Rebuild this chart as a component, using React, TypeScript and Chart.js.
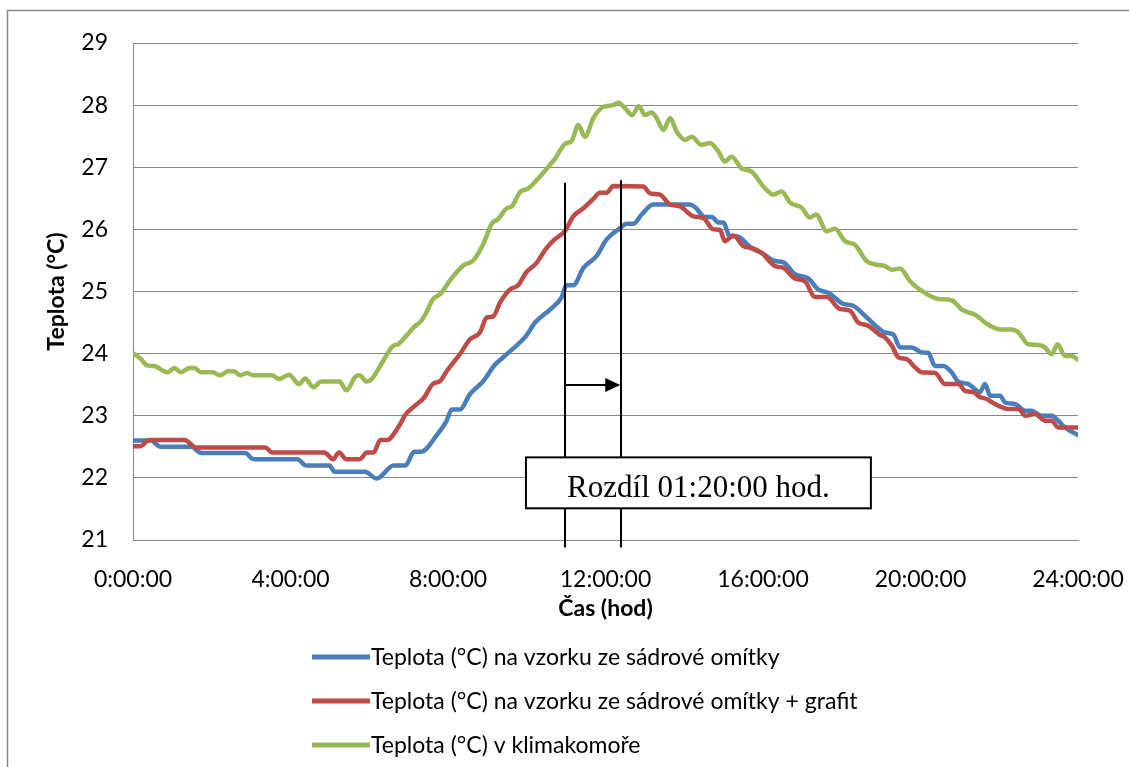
import React, { useEffect, useRef } from "react";
import { Chart, registerables } from "chart.js";

Chart.register(...registerables);

// ---- Data (hours, °C) ----
const blueTimes = [0, 0.45, 0.7, 1.48, 1.73, 2.85, 3.06, 4.18, 4.39, 4.99, 5.12, 5.89, 6.19, 6.62, 6.92, 7.14, 7.31, 7.73, 7.95, 8.1, 8.3, 8.56, 8.9, 9.19, 9.49, 9.99, 10.21, 10.59, 10.88, 11.01, 11.18, 11.44, 11.77, 12.03, 12.37, 12.54, 12.71, 12.92, 13.21, 14.14, 14.27, 14.53, 14.7, 14.87, 14.99, 15.16, 15.33, 15.71, 15.97, 16.3, 16.52, 16.81, 17.15, 17.41, 17.66, 18.04, 18.29, 18.59, 18.97, 19.1, 19.31, 19.48, 19.78, 20.03, 20.2, 20.37, 20.58, 20.79, 20.96, 21.22, 21.38, 21.51, 21.64, 21.77, 22.02, 22.15, 22.4, 22.66, 22.82, 23.08, 23.33, 23.5, 23.67, 24.0];
const blueValues = [22.6, 22.6, 22.5, 22.5, 22.4, 22.4, 22.3, 22.3, 22.2, 22.2, 22.1, 22.1, 21.99, 22.2, 22.2, 22.42, 22.42, 22.7, 22.9, 23.1, 23.1, 23.35, 23.56, 23.82, 23.99, 24.29, 24.5, 24.71, 24.9, 25.1, 25.1, 25.38, 25.57, 25.84, 26.02, 26.09, 26.09, 26.24, 26.4, 26.4, 26.36, 26.2, 26.2, 26.11, 26.11, 25.89, 25.89, 25.7, 25.62, 25.49, 25.47, 25.28, 25.21, 25.03, 24.98, 24.8, 24.77, 24.61, 24.39, 24.34, 24.31, 24.1, 24.1, 24.02, 24.01, 23.8, 23.8, 23.7, 23.55, 23.51, 23.43, 23.38, 23.51, 23.32, 23.32, 23.21, 23.19, 23.08, 23.08, 23.0, 23.0, 22.92, 22.81, 22.69];

const redTimes = [0, 0.19, 0.41, 1.31, 1.6, 3.36, 3.53, 4.86, 5.08, 5.23, 5.42, 5.76, 5.94, 6.11, 6.28, 6.45, 6.75, 6.92, 7.14, 7.39, 7.61, 7.8, 7.97, 8.3, 8.56, 8.81, 8.98, 9.15, 9.32, 9.57, 9.78, 9.99, 10.25, 10.5, 10.71, 10.97, 11.18, 11.44, 11.69, 11.86, 12.03, 12.2, 12.96, 13.13, 13.38, 13.64, 13.89, 14.23, 14.49, 14.74, 14.91, 15.03, 15.25, 15.5, 15.71, 15.97, 16.3, 16.52, 16.81, 17.07, 17.32, 17.62, 17.95, 18.21, 18.42, 18.67, 18.97, 19.1, 19.27, 19.44, 19.65, 19.86, 20.03, 20.37, 20.62, 20.96, 21.13, 21.34, 21.51, 21.68, 21.89, 22.23, 22.49, 22.66, 22.91, 23.16, 23.33, 23.5, 24.0];
const redValues = [22.51, 22.51, 22.61, 22.61, 22.49, 22.49, 22.41, 22.41, 22.3, 22.41, 22.3, 22.3, 22.41, 22.41, 22.61, 22.61, 22.83, 23.02, 23.15, 23.29, 23.51, 23.56, 23.72, 23.99, 24.23, 24.34, 24.58, 24.6, 24.82, 25.03, 25.1, 25.31, 25.46, 25.7, 25.84, 25.97, 26.21, 26.34, 26.49, 26.59, 26.59, 26.7, 26.69, 26.58, 26.56, 26.4, 26.37, 26.21, 26.18, 26.0, 25.99, 25.81, 25.9, 25.73, 25.7, 25.62, 25.41, 25.38, 25.21, 25.16, 24.91, 24.91, 24.72, 24.69, 24.5, 24.45, 24.3, 24.26, 24.13, 23.94, 23.91, 23.78, 23.7, 23.69, 23.51, 23.51, 23.4, 23.38, 23.3, 23.27, 23.19, 23.11, 23.11, 23.0, 23.03, 22.92, 22.92, 22.81, 22.81];

const greenTimes = [0, 0.19, 0.36, 0.53, 0.88, 1.05, 1.22, 1.43, 1.56, 1.73, 2.03, 2.21, 2.42, 2.59, 2.72, 2.89, 3.06, 3.53, 3.71, 3.96, 4.22, 4.37, 4.58, 4.78, 5.25, 5.42, 5.64, 5.75, 5.94, 6.06, 6.36, 6.58, 6.75, 6.96, 7.14, 7.31, 7.44, 7.61, 7.82, 8.05, 8.39, 8.64, 8.9, 9.11, 9.28, 9.49, 9.62, 9.83, 10.04, 10.25, 10.51, 10.72, 10.98, 11.14, 11.31, 11.48, 11.69, 11.94, 12.2, 12.33, 12.5, 12.67, 12.85, 13.0, 13.17, 13.3, 13.47, 13.64, 13.81, 14.02, 14.19, 14.44, 14.65, 14.87, 15.03, 15.2, 15.46, 15.71, 16.01, 16.26, 16.47, 16.69, 16.98, 17.19, 17.35, 17.62, 17.83, 18.08, 18.34, 18.63, 18.89, 19.1, 19.27, 19.48, 19.73, 20.03, 20.45, 20.79, 21.05, 21.43, 21.64, 22.02, 22.32, 22.49, 22.74, 23.0, 23.16, 23.33, 23.48, 23.67, 23.84, 24.0];
const greenValues = [24.01, 23.92, 23.81, 23.8, 23.7, 23.77, 23.7, 23.77, 23.77, 23.7, 23.7, 23.65, 23.72, 23.71, 23.65, 23.69, 23.65, 23.65, 23.59, 23.66, 23.51, 23.6, 23.46, 23.55, 23.55, 23.41, 23.62, 23.65, 23.55, 23.59, 23.89, 24.11, 24.16, 24.3, 24.43, 24.52, 24.65, 24.87, 24.97, 25.18, 25.42, 25.5, 25.77, 26.09, 26.17, 26.34, 26.37, 26.6, 26.66, 26.79, 26.98, 27.14, 27.38, 27.42, 27.68, 27.49, 27.79, 27.97, 28.0, 28.04, 27.95, 27.84, 27.98, 27.84, 27.88, 27.79, 27.6, 27.79, 27.57, 27.44, 27.49, 27.36, 27.39, 27.25, 27.09, 27.17, 26.98, 26.93, 26.69, 26.56, 26.61, 26.43, 26.35, 26.19, 26.24, 25.97, 26.01, 25.81, 25.75, 25.49, 25.43, 25.41, 25.35, 25.37, 25.17, 25.01, 24.88, 24.86, 24.71, 24.61, 24.5, 24.39, 24.39, 24.34, 24.15, 24.14, 24.1, 23.99, 24.15, 23.96, 23.96, 23.9];

const seriesLabels = [
  "Teplota (°C) na vzorku ze sádrové omítky",
  "Teplota (°C) na vzorku ze sádrové omítky + grafit",
  "Teplota (°C) v klimakomoře",
];
const seriesColors = ["#4A7EBB", "#BE4B48", "#98B954"];
const xTickValues = [0, 4, 8, 12, 16, 20, 24];
const yTickValues = [21, 22, 23, 24, 25, 26, 27, 28, 29];

// ---- Annotation (in data units) ----
const markerTimes = [10.97, 12.4];
const markerTops = [26.75, 26.79];
const markerBottom = 20.88;
const arrowValue = 23.5;
const boxTimes = [9.98, 18.74];
const boxValues = [22.33, 21.51];
const boxText = "Rozdíl 01:20:00 hod.";

const FONT = "Lato, 'Noto Sans', sans-serif";
const FS = 23;

const decorPlugin = {
  id: "decor",
  afterDatasetsDraw(chart: any) {
    const { ctx, scales } = chart;
    const xs = scales.x;
    const ys = scales.y;
    ctx.save();
    ctx.strokeStyle = "#000";
    ctx.fillStyle = "#000";
    ctx.lineWidth = 2;
    markerTimes.forEach((t, i) => {
      const px = Math.round(xs.getPixelForValue(t));
      ctx.beginPath();
      ctx.moveTo(px, ys.getPixelForValue(markerTops[i]));
      ctx.lineTo(px, ys.getPixelForValue(markerBottom));
      ctx.stroke();
    });
    const ax1 = xs.getPixelForValue(markerTimes[0]);
    const ax2 = xs.getPixelForValue(markerTimes[1]) - 1;
    const ay = Math.round(ys.getPixelForValue(arrowValue));
    ctx.beginPath();
    ctx.moveTo(ax1, ay);
    ctx.lineTo(ax2 - 12, ay);
    ctx.stroke();
    ctx.beginPath();
    ctx.moveTo(ax2, ay);
    ctx.lineTo(ax2 - 15, ay - 7);
    ctx.lineTo(ax2 - 15, ay + 7);
    ctx.closePath();
    ctx.fill();
    const bx1 = xs.getPixelForValue(boxTimes[0]);
    const bx2 = xs.getPixelForValue(boxTimes[1]);
    const by1 = ys.getPixelForValue(boxValues[0]);
    const by2 = ys.getPixelForValue(boxValues[1]);
    ctx.fillStyle = "#fff";
    ctx.fillRect(bx1, by1, bx2 - bx1, by2 - by1);
    ctx.strokeRect(bx1, by1, bx2 - bx1, by2 - by1);
    ctx.fillStyle = "#000";
    ctx.font = "31px 'Liberation Serif', 'Times New Roman', serif";
    ctx.textAlign = "center";
    ctx.textBaseline = "alphabetic";
    ctx.fillText(boxText, (bx1 + bx2) / 2, by2 - 11);
    ctx.restore();
  },
  afterDraw(chart: any) {
    const { ctx } = chart;
    ctx.save();
    ctx.strokeStyle = "#8a8a8a";
    ctx.lineWidth = 1.5;
    ctx.beginPath();
    ctx.moveTo(7.5, 767);
    ctx.lineTo(7.5, 10.5);
    ctx.lineTo(1129, 10.5);
    ctx.stroke();
    const rows = [657, 701, 745];
    ctx.font = `${FS}px ${FONT}`;
    ctx.textBaseline = "middle";
    ctx.textAlign = "left";
    seriesLabels.forEach((lab, i) => {
      ctx.strokeStyle = seriesColors[i];
      ctx.lineWidth = 5;
      ctx.lineCap = "butt";
      ctx.beginPath();
      ctx.moveTo(312, rows[i]);
      ctx.lineTo(370, rows[i]);
      ctx.stroke();
      ctx.fillStyle = "#000";
      ctx.fillText(lab, 371, rows[i] + 1);
    });
    ctx.restore();
  },
};

function toPoints(xs: number[], ys: number[]) {
  return xs.map((x, i) => ({ x, y: ys[i] }));
}

export default function App() {
  const ref = useRef<HTMLCanvasElement | null>(null);
  useEffect(() => {
    if (!ref.current) return;
    const seriesData = [
      toPoints(blueTimes, blueValues),
      toPoints(redTimes, redValues),
      toPoints(greenTimes, greenValues),
    ];
    const chart = new Chart(ref.current, {
      type: "line",
      data: {
        datasets: seriesData.map((d, i) => ({
          label: seriesLabels[i],
          data: d,
          borderColor: seriesColors[i],
          backgroundColor: seriesColors[i],
          borderWidth: 4.5,
          pointRadius: 0,
          cubicInterpolationMode: "monotone",
          borderJoinStyle: "round",
          borderCapStyle: "round",
          order: 3 - i,
        })),
      },
      options: {
        responsive: false,
        animation: false,
        layout: { padding: { left: 0, top: 43, right: 51, bottom: 145 } },
        plugins: { legend: { display: false }, tooltip: { enabled: false } },
        scales: {
          x: {
            type: "linear",
            min: 0,
            max: 24,
            afterFit: (s: any) => { s.height = 82; },
            afterBuildTicks: (s: any) => { s.ticks = xTickValues.map((v) => ({ value: v })); },
            grid: { display: false, drawTicks: true, tickLength: 26 },
            border: { display: true, color: "#868686", width: 1 },
            ticks: {
              padding: 0,
              color: "#000",
              font: { family: FONT, size: FS },
              maxRotation: 0,
              callback: (v: any) => `${v}:00:00`,
            },
            title: {
              display: true,
              text: "Čas (hod)",
              color: "#000",
              font: { family: FONT, size: FS, weight: "bold" },
              padding: { top: 0, bottom: 0 },
            },
          },
          y: {
            min: 21,
            max: 29,
            afterFit: (s: any) => { s.width = 133; },
            afterBuildTicks: (s: any) => { s.ticks = yTickValues.map((v) => ({ value: v })); },
            grid: { color: "#868686", lineWidth: 1, drawTicks: false },
            border: { display: true, color: "#868686", width: 1 },
            ticks: {
              padding: 25,
              color: "#000",
              font: { family: FONT, size: FS },
            },
            title: {
              display: true,
              text: "Teplota (°C)",
              color: "#000",
              font: { family: FONT, size: FS, weight: "bold" },
              padding: { top: 43, bottom: 0 },
            },
          },
        },
      },
      plugins: [decorPlugin],
    } as any);
    return () => chart.destroy();
  }, []);
  return (
    <div style={{ position: "fixed", left: 0, top: 0, width: 1129, height: 767, background: "#fff" }}>
      <canvas ref={ref} width={1129} height={767} style={{ width: 1129, height: 767, display: "block" }} />
    </div>
  );
}
